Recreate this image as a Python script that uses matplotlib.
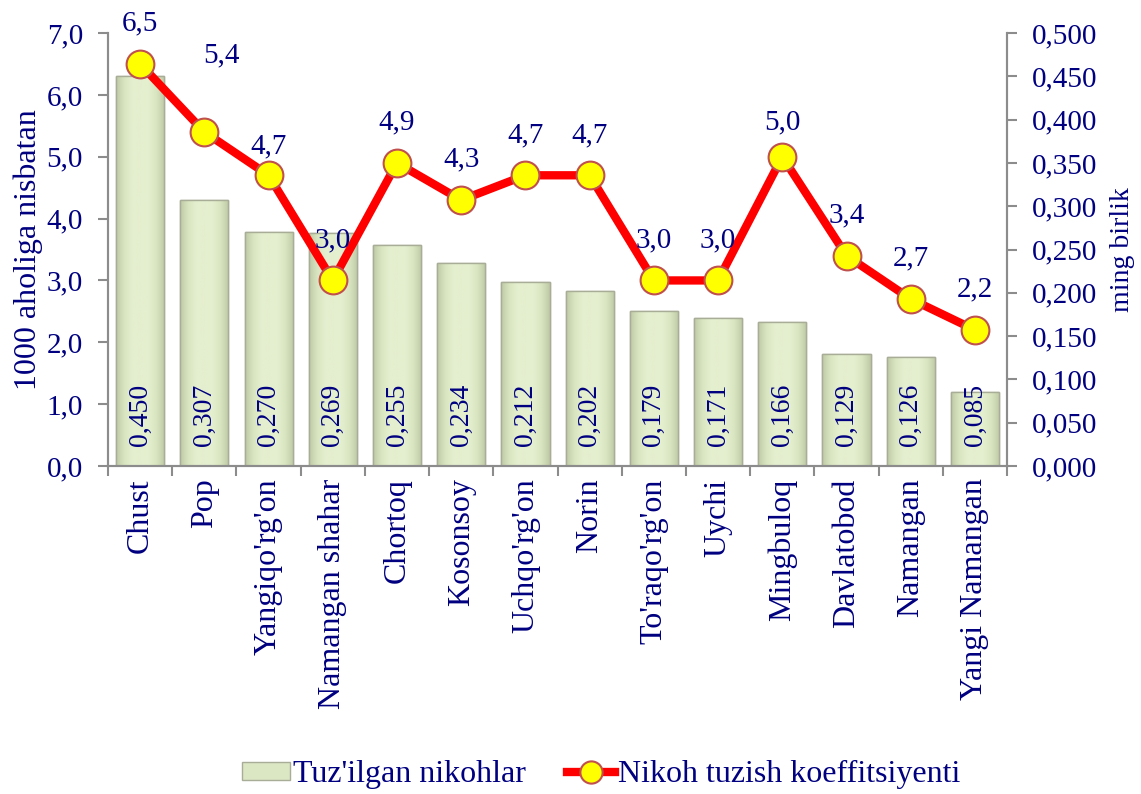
import matplotlib
matplotlib.use("Agg")
import numpy as np
import matplotlib.pyplot as plt
from matplotlib.lines import Line2D
from matplotlib.patches import Patch
from matplotlib.colors import LinearSegmentedColormap

categories = ["Chust", "Pop", "Yangiqo'rg'on", "Namangan shahar", "Chortoq", "Kosonsoy",
              "Uchqo'rg'on", "Norin", "To'raqo'rg'on", "Uychi", "Mingbuloq", "Davlatobod",
              "Namangan", "Yangi Namangan"]
marriages = [0.450, 0.307, 0.270, 0.269, 0.255, 0.234, 0.212, 0.202, 0.179, 0.171, 0.166,
             0.129, 0.126, 0.085]
coefficient = [6.5, 5.4, 4.7, 3.0, 4.9, 4.3, 4.7, 4.7, 3.0, 3.0, 5.0, 3.4, 2.7, 2.2]
left_ticks = [0, 1, 2, 3, 4, 5, 6, 7]
right_ticks = [0.0, 0.05, 0.10, 0.15, 0.20, 0.25, 0.30, 0.35, 0.40, 0.45, 0.50]

NAVY = "#000080"
GRAY = "#8c8c8c"
plt.rcParams["font.family"] = ["Liberation Serif", "DejaVu Serif"]

fig = plt.figure(figsize=(11.41, 7.94), dpi=100)
axL = fig.add_axes([0.0947, 0.4131, 0.7879, 0.5453])
axR = axL.twinx()
axL.set_zorder(axR.get_zorder() + 1)
axL.patch.set_visible(False)

x = list(range(len(categories)))
bw = 0.75

# bars on right axis with a bevel-like horizontal gradient
bevel = LinearSegmentedColormap.from_list(
    "bevel", ["#bfc9a6", "#d9e5c0", "#e4efcf", "#e4efcf", "#e4efcf", "#d9e5c0", "#bfc9a6"])
grad = np.linspace(0, 1, 64).reshape(1, -1)
bars = axR.bar(x, marriages, width=bw, color="#e2edcb", edgecolor="#a8ad98",
               linewidth=1.0, zorder=2)
for b in bars:
    im = axR.imshow(grad, cmap=bevel, aspect="auto", zorder=2.5,
                    extent=[b.get_x(), b.get_x() + b.get_width(), 0, b.get_height()])
    im.set_clip_path(b)
    axR.bar(b.get_x() + b.get_width() / 2, b.get_height(), width=b.get_width(),
            facecolor="none", edgecolor="#a8ad98", linewidth=1.0, zorder=2.6)
for xi, v in zip(x, marriages):
    axR.text(xi, 0.0595, f"{v:.3f}".replace(".", ","), rotation=90, ha="center", va="center",
             color=NAVY, fontsize=20, zorder=3)

# line on left axis
axL.plot(x, coefficient, color="#ff0000", linewidth=6, marker="o", markersize=20,
         markerfacecolor="#ffff00", markeredgecolor="#c0504d", markeredgewidth=1.5, zorder=4)
label_offsets = {1: (12, 55), 2: (0, 21), 10: (0, 25)}
for xi, v in zip(x, coefficient):
    dx, dy = label_offsets.get(xi, (0, 29))
    axL.annotate(f"{v:.1f}".replace(".", ","), (xi, v), xytext=(dx, dy), textcoords="offset points",
                 ha="center", va="center", color=NAVY, fontsize=21, zorder=5)

axL.set_xlim(-0.5, len(categories) - 0.5)
axL.set_ylim(0, 7)
axR.set_ylim(0, 0.5)
axL.set_yticks(left_ticks)
axL.set_yticklabels([f"{t:.1f}".replace(".", ",") for t in left_ticks])
axR.set_yticks(right_ticks)
axR.set_yticklabels([f"{t:.3f}".replace(".", ",") for t in right_ticks])

axL.set_xticks(x)
axL.set_xticklabels(categories, rotation=90, color=NAVY, fontsize=23)
axL.tick_params(axis="x", length=0, pad=9)
axL.set_xticks([i - 0.5 for i in range(len(categories) + 1)], minor=True)
axL.tick_params(axis="x", which="minor", length=7, color=GRAY, width=1.5)

for ax in (axL, axR):
    for s in ax.spines.values():
        s.set_color(GRAY)
        s.set_linewidth(1.5)
    ax.spines["top"].set_visible(False)
axL.tick_params(axis="y", colors=GRAY, labelcolor=NAVY, labelsize=21, length=7, width=1.5, pad=11)
axR.tick_params(axis="y", colors=GRAY, labelcolor=NAVY, labelsize=21, length=7, width=1.5, pad=11)

axL.set_ylabel("1000 aholiga nisbatan", color=NAVY, fontsize=23, labelpad=3)
axR.set_ylabel("ming birlik", color=NAVY, fontsize=20, labelpad=9)

handles = [Patch(facecolor="#dbe6c3", edgecolor="#a8ad98", linewidth=1.0),
           Line2D([0], [0], color="#ff0000", linewidth=6, marker="o", markersize=16,
                  markerfacecolor="#ffff00", markeredgecolor="#c0504d", markeredgewidth=1.5)]
fig.legend(handles, ["Tuz'ilgan nikohlar", "Nikoh tuzish koeffitsiyenti"], loc="center",
           bbox_to_anchor=(0.527, 0.024), ncol=2, frameon=False, fontsize=23,
           labelcolor=NAVY, handlelength=1.5, handleheight=0.5, handletextpad=0.1,
           columnspacing=1.3)

fig.savefig("out.png", dpi=100)
